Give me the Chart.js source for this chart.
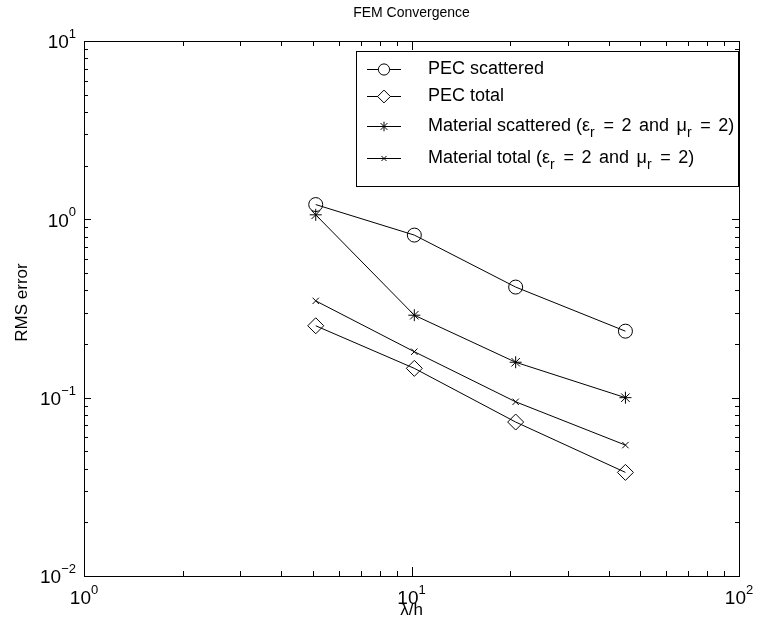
<!DOCTYPE html>
<html>
<head>
<meta charset="utf-8">
<script src="https://cdn.jsdelivr.net/npm/chart.js@4.4.1/dist/chart.umd.min.js"></script>
<style>
  html, body { margin: 0; padding: 0; background: #fff; }
  canvas { display: block; }
</style>
</head>
<body>
<canvas id="fem-chart" width="766" height="626"></canvas>
<script>
// ─────────────────────────────────────────────
//  DATA
// ─────────────────────────────────────────────
const lambdaH = [5.1, 10.2, 20.8, 45];
const pecScattered = [1.21, 0.816, 0.417, 0.236];
const pecTotal = [0.253, 0.146, 0.073, 0.0381];
const matScattered = [1.06, 0.290, 0.158, 0.100];
const matTotal = [0.349, 0.181, 0.0948, 0.0542];
const seriesNames = [
  'PEC scattered',
  'PEC total',
  'Material scattered (ε_r = 2 and μ_r = 2)',
  'Material total (ε_r = 2 and μ_r = 2)'
];
const xExponents = [0, 1, 2];
const yExponents = [-2, -1, 0, 1];

const FONT = '"Liberation Sans", Arial, Helvetica, sans-serif';

const markers = [
  { pointStyle: 'circle', radius: 7 },
  { pointStyle: 'rectRot', radius: 8 },
  { pointStyle: 'star', radius: 6 },
  { pointStyle: 'crossRot', radius: 4.5 }
];
const seriesValues = [pecScattered, pecTotal, matScattered, matTotal];

// split "ε_r" into normal / subscript parts
function parseRich(str) {
  const parts = [];
  str.split(/(_\w)/).forEach(s => {
    if (!s) return;
    if (s[0] === '_') parts.push([s.slice(1), 'sub']);
    else parts.push([s, 'n']);
  });
  return parts;
}

// draws text with sub/superscripts; extra = added width per space (TeX-ish spacing)
function drawRich(ctx, parts, x, y, size, align, extra = 0, subScale = 0.7) {
  const small = Math.round(size * subScale);
  const widthOf = (t, mode) => {
    ctx.font = (mode === 'n' ? size : small) + 'px ' + FONT;
    const spaces = mode === 'n' ? (t.match(/ /g) || []).length : 0;
    return ctx.measureText(t).width + spaces * extra + (mode === 'sub' ? extra / 2 : 0);
  };
  const w = parts.reduce((s, [t, mode]) => s + widthOf(t, mode), 0);
  let cx = align === 'center' ? x - w / 2 : align === 'right' ? x - w : x;
  ctx.textAlign = 'left';
  ctx.textBaseline = 'middle';
  parts.forEach(([t, mode]) => {
    ctx.font = (mode === 'n' ? size : small) + 'px ' + FONT;
    const dy = mode === 'sub' ? size * 0.4 : mode === 'sup' ? -size * 0.45 : 0;
    if (extra && mode === 'n') {
      t.split(' ').forEach((word, k, arr) => {
        ctx.fillText(word, cx, y + dy);
        cx += ctx.measureText(word).width;
        if (k < arr.length - 1) cx += ctx.measureText(' ').width + extra;
      });
    } else {
      ctx.fillText(t, cx, y + dy);
      cx += ctx.measureText(t).width + (mode === 'sub' ? extra / 2 : 0);
    }
  });
  return cx;
}

const expLabel = e => [['10', 'n'], [String(e).replace('-', '\u2212'), 'sup']];

// ─────────────────────────────────────────────
//  AXES, TEXT AND LEGEND (MATLAB look)
// ─────────────────────────────────────────────
const matlabAxes = {
  id: 'matlabAxes',
  afterDraw(chart) {
    const ctx = chart.ctx;
    const { left, right, top, bottom } = chart.chartArea;
    const xs = chart.scales.x, ys = chart.scales.y;
    ctx.save();
    ctx.strokeStyle = '#000';
    ctx.fillStyle = '#000';
    ctx.lineWidth = 1;

    // box
    ctx.strokeRect(Math.round(left) + 0.5, Math.round(top) + 0.5,
      Math.round(right - left), Math.round(bottom - top));

    // x ticks (bottom + top, inward)
    ctx.beginPath();
    xExponents.forEach(e => {
      for (let m = 1; m <= 9; m++) {
        if (m > 1 && e === xExponents[xExponents.length - 1]) break;
        const px = Math.round(xs.getPixelForValue(m * Math.pow(10, e))) + 0.5;
        const len = m === 1 ? 9 : 5;
        ctx.moveTo(px, bottom); ctx.lineTo(px, bottom - len);
        ctx.moveTo(px, top); ctx.lineTo(px, top + len);
      }
    });
    // y ticks (left + right, inward)
    yExponents.forEach(e => {
      for (let m = 1; m <= 9; m++) {
        if (m > 1 && e === yExponents[yExponents.length - 1]) break;
        const py = Math.round(ys.getPixelForValue(m * Math.pow(10, e))) + 0.5;
        const len = m === 1 ? 7 : 4;
        ctx.moveTo(left, py); ctx.lineTo(left + len, py);
        ctx.moveTo(right, py); ctx.lineTo(right - len, py);
      }
    });
    ctx.stroke();

    // tick labels
    xExponents.forEach(e => {
      drawRich(ctx, expLabel(e), xs.getPixelForValue(Math.pow(10, e)), bottom + 23, 19, 'center');
    });
    yExponents.forEach(e => {
      drawRich(ctx, expLabel(e), left - 8, ys.getPixelForValue(Math.pow(10, e)) + 2, 19, 'right');
    });

    // title and axis labels
    ctx.textAlign = 'center';
    ctx.textBaseline = 'middle';
    ctx.font = '14px ' + FONT;
    ctx.fillText('FEM Convergence', (left + right) / 2, 13);
    ctx.font = '17px ' + FONT;
    ctx.fillText('\u03bb/h', (left + right) / 2, 610);
    ctx.save();
    ctx.translate(22, (top + bottom) / 2 - 6);
    ctx.rotate(-Math.PI / 2);
    ctx.font = '17px ' + FONT;
    ctx.fillText('RMS error', 0, 0);
    ctx.restore();

    // legend
    const lx = 356, ly = 51, lw = 382, lh = 135;
    ctx.fillStyle = '#fff';
    ctx.fillRect(lx, ly, lw, lh);
    ctx.strokeRect(lx + 0.5, ly + 0.5, lw, lh);
    const rowY = [69, 96, 126, 158];
    seriesNames.forEach((name, i) => {
      const y = rowY[i];
      ctx.beginPath();
      ctx.moveTo(367, y + 0.5); ctx.lineTo(401, y + 0.5);
      ctx.stroke();
      ctx.fillStyle = '#fff';
      Chart.helpers.drawPoint(ctx, {
        pointStyle: markers[i].pointStyle,
        radius: markers[i].radius * 0.8,
        borderWidth: 1,
        rotation: 0
      }, 384, y + 0.5);
      ctx.fillStyle = '#000';
      const cut = name.indexOf('(');
      if (cut < 0) {
        drawRich(ctx, parseRich(name), 428, y, 18, 'left');
      } else {
        const endX = drawRich(ctx, parseRich(name.slice(0, cut)), 428, y, 18, 'left');
        drawRich(ctx, parseRich(name.slice(cut)), endX, y, 18, 'left', 2.5, 0.8);
      }
    });
    ctx.restore();
  }
};

// ─────────────────────────────────────────────
//  CHART
// ─────────────────────────────────────────────
const datasets = seriesValues.map((vals, i) => ({
  label: seriesNames[i],
  data: lambdaH.map((x, j) => ({ x, y: vals[j] })),
  showLine: true,
  borderColor: '#000',
  borderWidth: 1,
  pointStyle: markers[i].pointStyle,
  pointRadius: markers[i].radius,
  pointBorderColor: '#000',
  pointBorderWidth: 1,
  pointBackgroundColor: 'rgba(0,0,0,0)',
  pointHoverRadius: markers[i].radius
}));

new Chart(document.getElementById('fem-chart').getContext('2d'), {
  type: 'scatter',
  data: { datasets },
  options: {
    responsive: false,
    animation: false,
    layout: { padding: { left: 84, right: 27, top: 41, bottom: 50 } },
    scales: {
      x: { type: 'logarithmic', min: 1, max: 100, display: false },
      y: { type: 'logarithmic', min: 0.01, max: 10, display: false }
    },
    plugins: {
      legend: { display: false },
      tooltip: { enabled: false }
    }
  },
  plugins: [matlabAxes]
});
</script>
</body>
</html>
